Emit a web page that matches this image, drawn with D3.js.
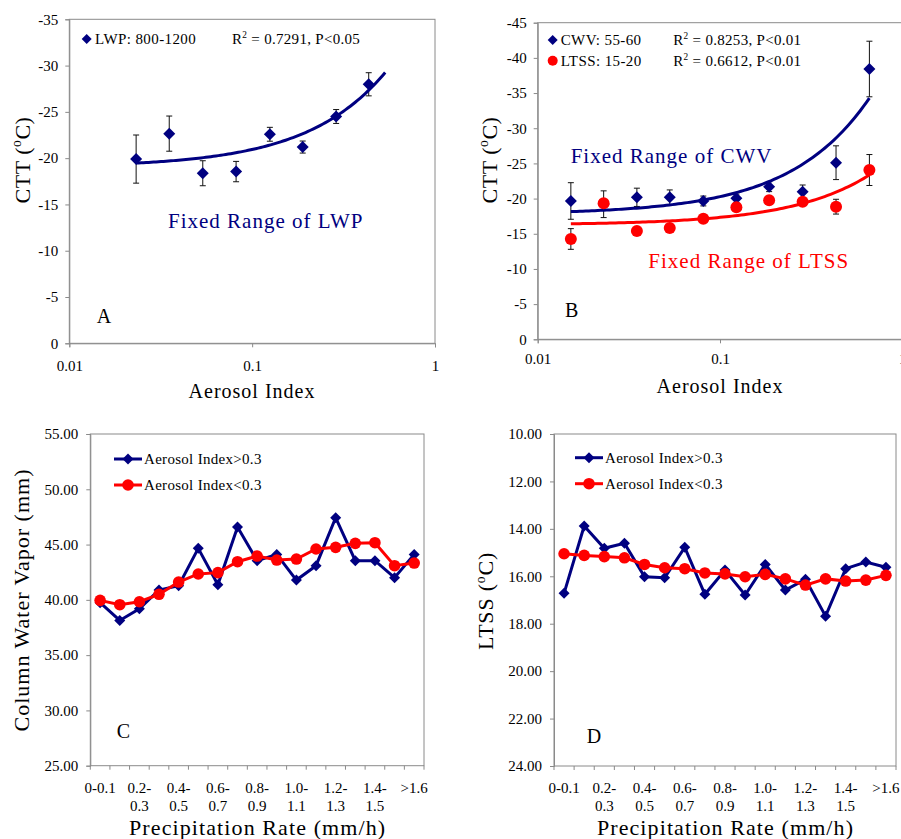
<!DOCTYPE html>
<html>
<head>
<meta charset="utf-8">
<script src="https://cdn.jsdelivr.net/npm/d3@7"></script>
<style>
  body { margin: 0; background: #fff; }
  svg { display: block; font-family: "Liberation Serif", "Times New Roman", serif; }
</style>
</head>
<body>
<svg id="fig" width="901" height="839"></svg>
<script>
// ---------- Panel A: CTT vs aerosol index, fixed LWP ----------
const aiLwp   = [0.0232, 0.0352, 0.0537, 0.0817, 0.125, 0.189, 0.288, 0.434];
const cttLwp  = [-19.9, -22.65, -18.37, -18.55, -22.58, -21.2, -24.5, -27.98];
const errLwp  = [2.6, 1.9, 1.35, 1.1, 0.75, 0.65, 0.75, 1.25];
const trendForwardA = 0.1;   // trend line extended past the last point

// ---------- Panel B: CTT vs aerosol index, fixed CWV / fixed LTSS ----------
const aiB      = [0.0152, 0.023, 0.035, 0.053, 0.081, 0.123, 0.186, 0.284, 0.433, 0.66];
const cttCwv   = [-19.66, -19.2, -20.18, -20.18, -19.66, -20.04, -21.69, -20.98, -25.1, -38.42];
const errCwv   = [2.6, 1.9, 1.3, 1.05, 0.7, 0.6, 0.7, 0.95, 2.4, 3.95];
const cttLtss  = [-14.26, -19.33, -15.39, -15.82, -17.14, -18.76, -19.75, -19.56, -18.85, -24.06];
const errLtss  = [1.47, 0.5, 0.4, 0.4, 0.4, 0.4, 0.4, 0.4, 1.05, 2.2];

// ---------- Panels C & D: precipitation-rate bins ----------
const rateBins = ["0-0.1", "0.1-0.2", "0.2-0.3", "0.3-0.4", "0.4-0.5", "0.5-0.6", "0.6-0.7",
                  "0.7-0.8", "0.8-0.9", "0.9-1.0", "1.0-1.1", "1.1-1.2", "1.2-1.3", "1.3-1.4",
                  "1.4-1.5", "1.5-1.6", ">1.6"];
const cwvHigh = [39.74, 38.14, 39.2, 40.89, 41.28, 44.66, 41.37, 46.59, 43.54, 44.11,
                 41.79, 43.09, 47.43, 43.54, 43.54, 42.0, 44.11];
const cwvLow  = [39.95, 39.56, 39.83, 40.5, 41.61, 42.34, 42.46, 43.45, 43.96, 43.6,
                 43.69, 44.6, 44.75, 45.11, 45.17, 43.09, 43.33];
const ltssHigh = [16.72, 13.88, 14.82, 14.61, 16.02, 16.06, 14.78, 16.76, 15.74, 16.79,
                  15.5, 16.58, 16.13, 17.68, 15.68, 15.4, 15.62];
const ltssLow  = [15.05, 15.12, 15.17, 15.22, 15.5, 15.64, 15.68, 15.86, 15.9, 16.02,
                  15.92, 16.11, 16.37, 16.11, 16.2, 16.16, 15.96];

const ctTicks   = [0, -5, -10, -15, -20, -25, -30, -35];
const ctTicksB  = [0, -5, -10, -15, -20, -25, -30, -35, -40, -45];
const cwvTicks  = [25, 30, 35, 40, 45, 50, 55];
const ltssTicks = [10, 12, 14, 16, 18, 20, 22, 24];
const aiTicks   = [0.01, 0.1, 1];

const NAVY = "#000080", RED = "#ff0000", GREY = "#8a8a8a";
const svg = d3.select("#fig");
svg.append("rect").attr("width", 901).attr("height", 839).attr("fill", "#fff");

// ordinary least-squares line y = a + b x
function linFit(xs, ys) {
  const mx = d3.mean(xs), my = d3.mean(ys);
  let sxy = 0, sxx = 0;
  xs.forEach((x, i) => { sxy += (x - mx) * (ys[i] - my); sxx += (x - mx) * (x - mx); });
  const b = sxy / sxx;
  return { a: my - b * mx, b };
}

function diamondPath(h) { return `M0,${-h}L${h},0L0,${h}L${-h},0Z`; }

function styleAxis(sel) {
  sel.attr("font-family", "Liberation Serif, Times New Roman, serif").attr("font-size", 15);
  sel.select(".domain").attr("stroke", GREY);
  sel.selectAll(".tick line").attr("stroke", GREY);
  sel.selectAll(".tick text").attr("fill", "#000");
}

function supText(g, x, y, parts, opts) {
  // parts: array of [text, isSuperscript]
  const t = g.append("text").attr("x", x).attr("y", y)
    .attr("font-size", opts.size).attr("fill", opts.fill || "#000")
    .attr("letter-spacing", opts.ls || 0)
    .attr("text-anchor", opts.anchor || "start");
  if (opts.transform) t.attr("transform", opts.transform);
  let up = false;
  parts.forEach(([s, sup]) => {
    const ts = t.append("tspan").text(s);
    if (sup && !up) { ts.attr("dy", -opts.size * 0.4).attr("font-size", opts.size * 0.62); up = true; }
    else if (!sup && up) { ts.attr("dy", opts.size * 0.4); up = false; }
  });
  return t;
}

function yTitle(g, x, y, parts, size, ls) {
  supText(g, 0, 0, parts, { size, ls, anchor: "middle", transform: `translate(${x},${y}) rotate(-90)` });
}

function errorBars(g, x, y, xs, ys, errs) {
  const eb = g.append("g").attr("stroke", "#111").attr("stroke-width", 1);
  xs.forEach((xv, i) => {
    const cx = x(xv), y1 = y(ys[i] - errs[i]), y2 = y(ys[i] + errs[i]);
    eb.append("line").attr("x1", cx).attr("x2", cx).attr("y1", y1).attr("y2", y2);
    eb.append("line").attr("x1", cx - 3).attr("x2", cx + 3).attr("y1", y1).attr("y2", y1);
    eb.append("line").attr("x1", cx - 3).attr("x2", cx + 3).attr("y1", y2).attr("y2", y2);
  });
}

function trendLine(g, x, y, xs, ys, x0, x1, color) {
  const f = linFit(xs, ys);
  const lx0 = Math.log10(x0), lx1 = Math.log10(x1);
  const pts = d3.range(0, 101).map(k => {
    const xv = Math.pow(10, lx0 + (lx1 - lx0) * k / 100);
    return [x(xv), y(f.a + f.b * xv)];
  });
  g.append("path").attr("d", d3.line()(pts)).attr("fill", "none")
    .attr("stroke", color).attr("stroke-width", 3);
}

// ---------- log-x panels ----------
function logFrame(box, yDomain, yTicks, xOne) {
  const g = svg.append("g");
  const x = d3.scaleLog().domain([0.01, 1]).range([box.left, xOne]);
  const y = d3.scaleLinear().domain(yDomain).range([box.bottom, box.top]);
  g.append("rect").attr("x", box.left).attr("y", box.top)
    .attr("width", box.right - box.left).attr("height", box.bottom - box.top)
    .attr("fill", "none").attr("stroke", GREY);
  g.append("g").attr("transform", `translate(${box.left},0)`)
    .call(d3.axisLeft(y).tickValues(yTicks).tickFormat(d => String(d)).tickSize(4).tickPadding(7))
    .call(styleAxis);
  g.append("g").attr("transform", `translate(0,${box.bottom})`)
    .call(d3.axisBottom(x).tickValues(aiTicks).tickFormat(d => String(d)).tickSize(4).tickPadding(box.xPad))
    .call(styleAxis);
  return { g, x, y };
}

// Panel A
(function () {
  const box = { left: 69.3, right: 435, top: 19.3, bottom: 343.3, xPad: 13 };
  const { g, x, y } = logFrame(box, [0, -35], ctTicks, 435);
  errorBars(g, x, y, aiLwp, cttLwp, errLwp);
  trendLine(g, x, y, aiLwp, cttLwp, aiLwp[0], aiLwp[aiLwp.length - 1] + trendForwardA, NAVY);
  g.selectAll("path.pt").data(aiLwp).join("path").attr("class", "pt")
    .attr("d", diamondPath(6)).attr("fill", NAVY)
    .attr("transform", (d, i) => `translate(${x(d)},${y(cttLwp[i])})`);
  // legend + statistics
  g.append("path").attr("d", diamondPath(5)).attr("fill", NAVY).attr("transform", "translate(86.7,39)");
  g.append("text").attr("x", 95).attr("y", 44).attr("font-size", 15).attr("letter-spacing", 0.4).text("LWP: 800-1200");
  supText(g, 232, 44, [["R"], ["2", true], [" = 0.7291, P<0.05"]], { size: 15, ls: 0.3 });
  g.append("text").attr("x", 168).attr("y", 228.3).attr("font-size", 21).attr("letter-spacing", 1)
    .attr("fill", NAVY).text("Fixed Range of LWP");
  g.append("text").attr("x", 96.7).attr("y", 322.7).attr("font-size", 20).text("A");
  g.append("text").attr("x", 252).attr("y", 398).attr("font-size", 20).attr("letter-spacing", 1)
    .attr("text-anchor", "middle").text("Aerosol Index");
  yTitle(g, 30, 160, [["CTT ("], ["o", true], ["C)"]], 22, 0.5);
})();

// Panel B
(function () {
  const box = { left: 537.7, right: 902.3, top: 22.7, bottom: 339.3, xPad: 10 };
  const { g, x, y } = logFrame(box, [0, -45], ctTicksB, 902.3);
  errorBars(g, x, y, aiB, cttCwv, errCwv);
  errorBars(g, x, y, aiB, cttLtss, errLtss);
  trendLine(g, x, y, aiB, cttCwv, aiB[0], aiB[aiB.length - 1], NAVY);
  trendLine(g, x, y, aiB, cttLtss, aiB[0], aiB[aiB.length - 1], RED);
  g.selectAll("path.pt").data(aiB).join("path").attr("class", "pt")
    .attr("d", diamondPath(6)).attr("fill", NAVY)
    .attr("transform", (d, i) => `translate(${x(d)},${y(cttCwv[i])})`);
  g.selectAll("circle.pt").data(aiB).join("circle").attr("class", "pt")
    .attr("r", 6).attr("fill", RED)
    .attr("cx", d => x(d)).attr("cy", (d, i) => y(cttLtss[i]));
  g.append("path").attr("d", diamondPath(5)).attr("fill", NAVY).attr("transform", "translate(552.7,40)");
  g.append("text").attr("x", 560.7).attr("y", 45).attr("font-size", 15).attr("letter-spacing", 0.4).text("CWV: 55-60");
  g.append("circle").attr("cx", 552.7).attr("cy", 60.7).attr("r", 5).attr("fill", RED);
  g.append("text").attr("x", 560.7).attr("y", 65.5).attr("font-size", 15).attr("letter-spacing", 0.4).text("LTSS: 15-20");
  supText(g, 673.3, 45, [["R"], ["2", true], [" = 0.8253, P<0.01"]], { size: 15, ls: 0.3 });
  supText(g, 673.3, 65.5, [["R"], ["2", true], [" = 0.6612, P<0.01"]], { size: 15, ls: 0.3 });
  g.append("text").attr("x", 570.7).attr("y", 163.3).attr("font-size", 21).attr("letter-spacing", 1)
    .attr("fill", NAVY).text("Fixed Range of CWV");
  g.append("text").attr("x", 648.3).attr("y", 267.7).attr("font-size", 21).attr("letter-spacing", 1)
    .attr("fill", RED).text("Fixed Range of LTSS");
  g.append("text").attr("x", 565).attr("y", 316.7).attr("font-size", 20).text("B");
  g.append("text").attr("x", 720).attr("y", 392.7).attr("font-size", 20).attr("letter-spacing", 1)
    .attr("text-anchor", "middle").text("Aerosol Index");
  yTitle(g, 496.7, 160, [["CTT ("], ["o", true], ["C)"]], 22, 0.5);
})();

// ---------- category panels ----------
function catPanel(cfg) {
  const { box } = cfg;
  const g = svg.append("g");
  const x = d3.scaleBand().domain(rateBins).range([box.left, box.right]).padding(0);
  const cx = d => x(d) + x.bandwidth() / 2;
  const y = d3.scaleLinear().domain(cfg.yDomain).range([box.bottom, box.top]);
  g.append("rect").attr("x", box.left).attr("y", box.top)
    .attr("width", box.right - box.left).attr("height", box.bottom - box.top)
    .attr("fill", "none").attr("stroke", GREY);
  g.append("g").attr("transform", `translate(${box.left},0)`)
    .call(d3.axisLeft(y).tickValues(cfg.yTicks).tickFormat(d3.format(".2f")).tickSize(4).tickPadding(8))
    .call(styleAxis);
  // bottom axis: ticks on bin boundaries, labels on every other bin
  const bounds = rateBins.map(d => x(d)).concat([box.right]);
  g.append("g").selectAll("line").data(bounds).join("line")
    .attr("x1", d => d).attr("x2", d => d).attr("y1", box.bottom).attr("y2", box.bottom + 4)
    .attr("stroke", GREY);
  const lab = g.append("g").attr("font-size", 15).attr("text-anchor", "middle");
  rateBins.forEach((b, i) => {
    if (i % 2) return;
    const lines = b.length > 5 ? [b.slice(0, b.indexOf("-") + 1), b.slice(b.indexOf("-") + 1)] : [b];
    lines.forEach((s, k) => lab.append("text").attr("x", cx(b)).attr("y", box.bottom + 27 + k * 18).text(s));
  });
  // series
  const line = vals => d3.line().x((d, i) => cx(rateBins[i])).y(d => y(d))(vals);
  g.append("path").attr("d", line(cfg.high)).attr("fill", "none").attr("stroke", NAVY).attr("stroke-width", 3);
  g.selectAll("path.pt").data(cfg.high).join("path").attr("class", "pt")
    .attr("d", diamondPath(5.5)).attr("fill", NAVY)
    .attr("transform", (d, i) => `translate(${cx(rateBins[i])},${y(d)})`);
  g.append("path").attr("d", line(cfg.low)).attr("fill", "none").attr("stroke", RED).attr("stroke-width", 3);
  g.selectAll("circle.pt").data(cfg.low).join("circle").attr("class", "pt")
    .attr("r", 5.8).attr("fill", RED)
    .attr("cx", (d, i) => cx(rateBins[i])).attr("cy", d => y(d));
  // legend
  const L = cfg.legend;
  g.append("line").attr("x1", L.x).attr("x2", L.x + 28).attr("y1", L.y).attr("y2", L.y).attr("stroke", NAVY).attr("stroke-width", 3);
  g.append("path").attr("d", diamondPath(5.5)).attr("fill", NAVY).attr("transform", `translate(${L.x + 14},${L.y})`);
  g.append("text").attr("x", L.x + 30).attr("y", L.y + 5).attr("font-size", 15).attr("letter-spacing", 0.3).text("Aerosol Index>0.3");
  g.append("line").attr("x1", L.x).attr("x2", L.x + 28).attr("y1", L.y + 26).attr("y2", L.y + 26).attr("stroke", RED).attr("stroke-width", 3);
  g.append("circle").attr("cx", L.x + 14).attr("cy", L.y + 26).attr("r", 5.8).attr("fill", RED);
  g.append("text").attr("x", L.x + 30).attr("y", L.y + 31).attr("font-size", 15).attr("letter-spacing", 0.3).text("Aerosol Index<0.3");
  g.append("text").attr("x", cfg.letter[0]).attr("y", cfg.letter[1]).attr("font-size", 20).text(cfg.letter[2]);
  g.append("text").attr("x", (box.left + box.right) / 2 + 0.5).attr("y", 835).attr("font-size", 22).attr("letter-spacing", 1.1)
    .attr("text-anchor", "middle").text("Precipitation Rate (mm/h)");
  yTitle(g, cfg.title[0], cfg.title[1], cfg.title[2], 22, cfg.title[3]);
}

// Panel C
catPanel({
  box: { left: 90.3, right: 424, top: 434, bottom: 765.7 },
  yDomain: [25, 55], yTicks: cwvTicks, high: cwvHigh, low: cwvLow,
  legend: { x: 114, y: 459 },
  letter: [116.7, 738.3, "C"],
  title: [29.3, 600, [["Column Water Vapor (mm)"]], 1]
});

// Panel D (LTSS axis runs downward)
catPanel({
  box: { left: 554, right: 896, top: 434, bottom: 766 },
  yDomain: [24, 10], yTicks: ltssTicks, high: ltssHigh, low: ltssLow,
  legend: { x: 575, y: 457.7 },
  letter: [586.7, 742.7, "D"],
  title: [493.3, 601, [["LTSS ("], ["o", true], ["C)"]], 0.8]
});
</script>
</body>
</html>
